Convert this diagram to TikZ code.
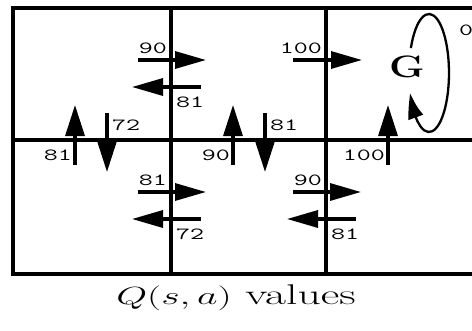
\documentclass[tikz,border=0pt]{standalone}
\usepackage{graphicx, amsmath, amssymb}
\usepackage{tikz}
\usetikzlibrary{arrows.meta, bending}

\newcommand{\stretchx}[1]{\scalebox{1.6}[1]{#1}}

\begin{document}
\begin{tikzpicture}[x=1pt, y=-1pt,
    grid/.style={line width=3.5pt},
    qline/.style={line width=3.3pt},
    harrow/.style={qline, -{Triangle[length=31pt, width=17pt]}},
    varrow/.style={qline, -{Triangle[length=31pt, width=19pt]}},
    qval/.style={inner sep=0pt, font=\fontsize{17}{17}\selectfont\ttfamily}]
    \useasboundingbox (0, 0) rectangle (472, 330);
    \clip (0, 0) rectangle (472, 330);

    % the six states
    \draw[grid] (13, 8) rectangle (483, 274);
    \draw[grid] (13, 140) -- (483, 140);
    \foreach \x in {171, 326} {
        \draw[grid] (\x, 8) -- (\x, 274);
    }

    % left / right moves
    \foreach \xv/\yv/\qr/\ql in {171/60/90/81, 171/192/81/72, 326/192/90/81} {
        \coordinate (rs-\xv-\yv) at (\xv-33, \yv);
        \coordinate (re-\xv-\yv) at (\xv+35, \yv);
        \coordinate (ls-\xv-\yv) at (\xv+30, \yv+27);
        \coordinate (le-\xv-\yv) at (\xv-39, \yv+27);
        \draw[harrow] (rs-\xv-\yv) -- (re-\xv-\yv);
        \draw[harrow] (ls-\xv-\yv) -- (le-\xv-\yv);
        \node[qval, anchor=south east] (qr-\xv-\yv) at (\xv-4, \yv-6) {\stretchx{\qr}};
        \node[qval, anchor=north west] (ql-\xv-\yv) at (\xv+5, \yv+37) {\stretchx{\ql}};
    }

    % into the goal
    \coordinate (gs) at (293, 60);
    \coordinate (ge) at (362, 60);
    \draw[harrow] (gs) -- (ge);
    \node[qval, anchor=south east] (q100) at (322, 54) {\stretchx{100}};

    % up / down moves
    \foreach \cx/\qu in {13/81, 171/90, 326/100} {
        \coordinate (us-\cx) at (\cx+62, 165);
        \coordinate (ue-\cx) at (\cx+62, 105);
        \draw[varrow] (us-\cx) -- (ue-\cx);
        \node[qval, anchor=south east] (qu-\cx) at (\cx+59, 161) {\stretchx{\qu}};
    }
    \foreach \cx/\qd in {13/72, 171/81} {
        \coordinate (ds-\cx) at (\cx+94, 113);
        \coordinate (de-\cx) at (\cx+94, 172);
        \draw[varrow] (ds-\cx) -- (de-\cx);
        \node[qval, anchor=south west] (qd-\cx) at (\cx+99, 131) {\stretchx{\qd}};
    }

    % goal and its loop
    \node[font=\fontsize{31}{31}\selectfont\bfseries] (goal) at (407, 67) {\scalebox{1.3}[1]{G}};
    \draw[line width=2.3pt, -{Triangle[length=27pt, width=15pt, bend]}]
        (429, 73) ++(205:20 and 59) arc[start angle=205, end angle=520, x radius=20, y radius=59];
    \node[qval, anchor=west] (q0) at (459, 30) {\stretchx{0}};

    \node[font=\fontsize{28.5}{28.5}\selectfont, anchor=base] (caption) at (236, 304) {\stretchx{$Q(s, a)$ values}};

\end{tikzpicture}
\end{document}
